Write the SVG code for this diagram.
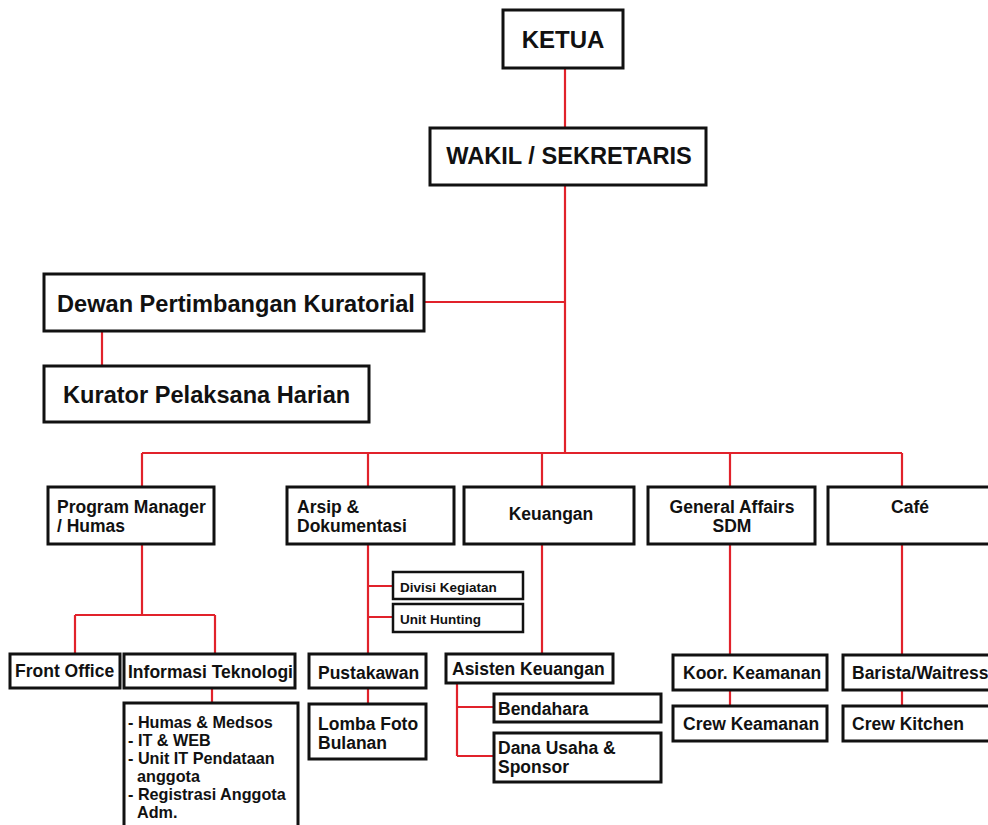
<svg xmlns="http://www.w3.org/2000/svg" width="988" height="825" viewBox="0 0 988 825">
<style>
  .box{fill:#fff;stroke:#111;stroke-width:3}
  .sbox{fill:#fff;stroke:#111;stroke-width:2.5}
  .t{font-family:"Liberation Sans",Arial,sans-serif;font-weight:bold;fill:#111}
  .big{font-size:23.6px}
  .mid{font-size:17.5px}
  .sm{font-size:13.5px}
  .lst{font-size:16.2px}
  .c{fill:none;stroke:#e1222b;stroke-width:2.2}
</style>
<rect width="988" height="825" fill="#fff"/>
<g id="connectors">
  <path class="c" d="M565 68V127M565 185V453M424 302H565M102 331V365M142 453H902M142 453V487M368 453V487M542 453V487M730 453V487M902 453V487"/>
  <path class="c" d="M142 544V615M75 615H215M75 615V653M215 615V653M212 688V703"/>
  <path class="c" d="M368 544V653M368 586H393M368 617H393M368 688V704"/>
  <path class="c" d="M542 544V653M457 683V756M457 707H493M457 756H493"/>
  <path class="c" d="M730 544V655M730 690V706M902 544V655M902 690V706"/>
</g>
<g id="ketua"><rect class="box" x="503" y="10" width="120" height="58"/><text class="t" x="563" y="48" font-size="24" text-anchor="middle">KETUA</text></g>
<g id="wakil"><rect class="box" x="430" y="128" width="276" height="57"/><text class="t big" x="569" y="164" text-anchor="middle">WAKIL / SEKRETARIS</text></g>
<g id="dewan"><rect class="box" x="44" y="274" width="380" height="57"/><text class="t big" x="57" y="312">Dewan Pertimbangan Kuratorial</text></g>
<g id="kurator"><rect class="box" x="44" y="366" width="325" height="56"/><text class="t big" x="63" y="403">Kurator Pelaksana Harian</text></g>
<g id="program"><rect class="box" x="48" y="487" width="166" height="57"/><text class="t mid" x="57" y="513">Program Manager</text><text class="t mid" x="57" y="532">/ Humas</text></g>
<g id="arsip"><rect class="box" x="287" y="487" width="167" height="57"/><text class="t mid" x="297" y="513">Arsip &amp;</text><text class="t mid" x="297" y="532">Dokumentasi</text></g>
<g id="keuangan"><rect class="box" x="464" y="487" width="170" height="57"/><text class="t mid" x="551" y="520" text-anchor="middle">Keuangan</text></g>
<g id="general"><rect class="box" x="648" y="487" width="167" height="57"/><text class="t mid" x="732" y="513" text-anchor="middle">General Affairs</text><text class="t mid" x="732" y="532" text-anchor="middle">SDM</text></g>
<g id="cafe"><rect class="box" x="828" y="487" width="170" height="57"/><text class="t mid" x="910" y="513" text-anchor="middle">Café</text></g>
<g id="divisi"><rect class="sbox" x="393" y="572" width="130" height="27"/><text class="t sm" x="400" y="592">Divisi Kegiatan</text></g>
<g id="unit"><rect class="sbox" x="393" y="604" width="130" height="28"/><text class="t sm" x="400" y="624">Unit Hunting</text></g>
<g id="front"><rect class="box" x="10" y="654" width="110" height="34"/><text class="t mid" x="15" y="677">Front Office</text></g>
<g id="informasi"><rect class="box" x="124" y="654" width="171" height="34"/><text class="t mid" x="128" y="678">Informasi Teknologi</text></g>
<g id="itlist"><rect class="box" x="124" y="703" width="174" height="130"/>
  <text class="t lst" x="128" y="728">- Humas &amp; Medsos</text>
  <text class="t lst" x="128" y="746">- IT &amp; WEB</text>
  <text class="t lst" x="128" y="764">- Unit IT Pendataan</text>
  <text class="t lst" x="137" y="782">anggota</text>
  <text class="t lst" x="128" y="800">- Registrasi Anggota</text>
  <text class="t lst" x="137" y="818">Adm.</text>
</g>
<g id="pustakawan"><rect class="box" x="309" y="654" width="117" height="34"/><text class="t mid" x="318" y="679">Pustakawan</text></g>
<g id="lomba"><rect class="box" x="309" y="704" width="117" height="55"/><text class="t mid" x="318" y="730">Lomba Foto</text><text class="t mid" x="318" y="749">Bulanan</text></g>
<g id="asisten"><rect class="box" x="446" y="654" width="167" height="29"/><text class="t mid" x="452" y="675">Asisten Keuangan</text></g>
<g id="bendahara"><rect class="box" x="494" y="694" width="167" height="28"/><text class="t mid" x="498" y="715">Bendahara</text></g>
<g id="dana"><rect class="box" x="494" y="733" width="167" height="49"/><text class="t mid" x="498" y="754">Dana Usaha &amp;</text><text class="t mid" x="498" y="773">Sponsor</text></g>
<g id="koor"><rect class="box" x="673" y="655" width="154" height="35"/><text class="t mid" x="683" y="679">Koor. Keamanan</text></g>
<g id="crewk"><rect class="box" x="673" y="706" width="154" height="35"/><text class="t mid" x="683" y="730">Crew Keamanan</text></g>
<g id="barista"><rect class="box" x="843" y="655" width="160" height="35"/><text class="t mid" x="852" y="679">Barista/Waitress</text></g>
<g id="kitchen"><rect class="box" x="843" y="706" width="160" height="35"/><text class="t mid" x="852" y="730">Crew Kitchen</text></g>
</svg>
